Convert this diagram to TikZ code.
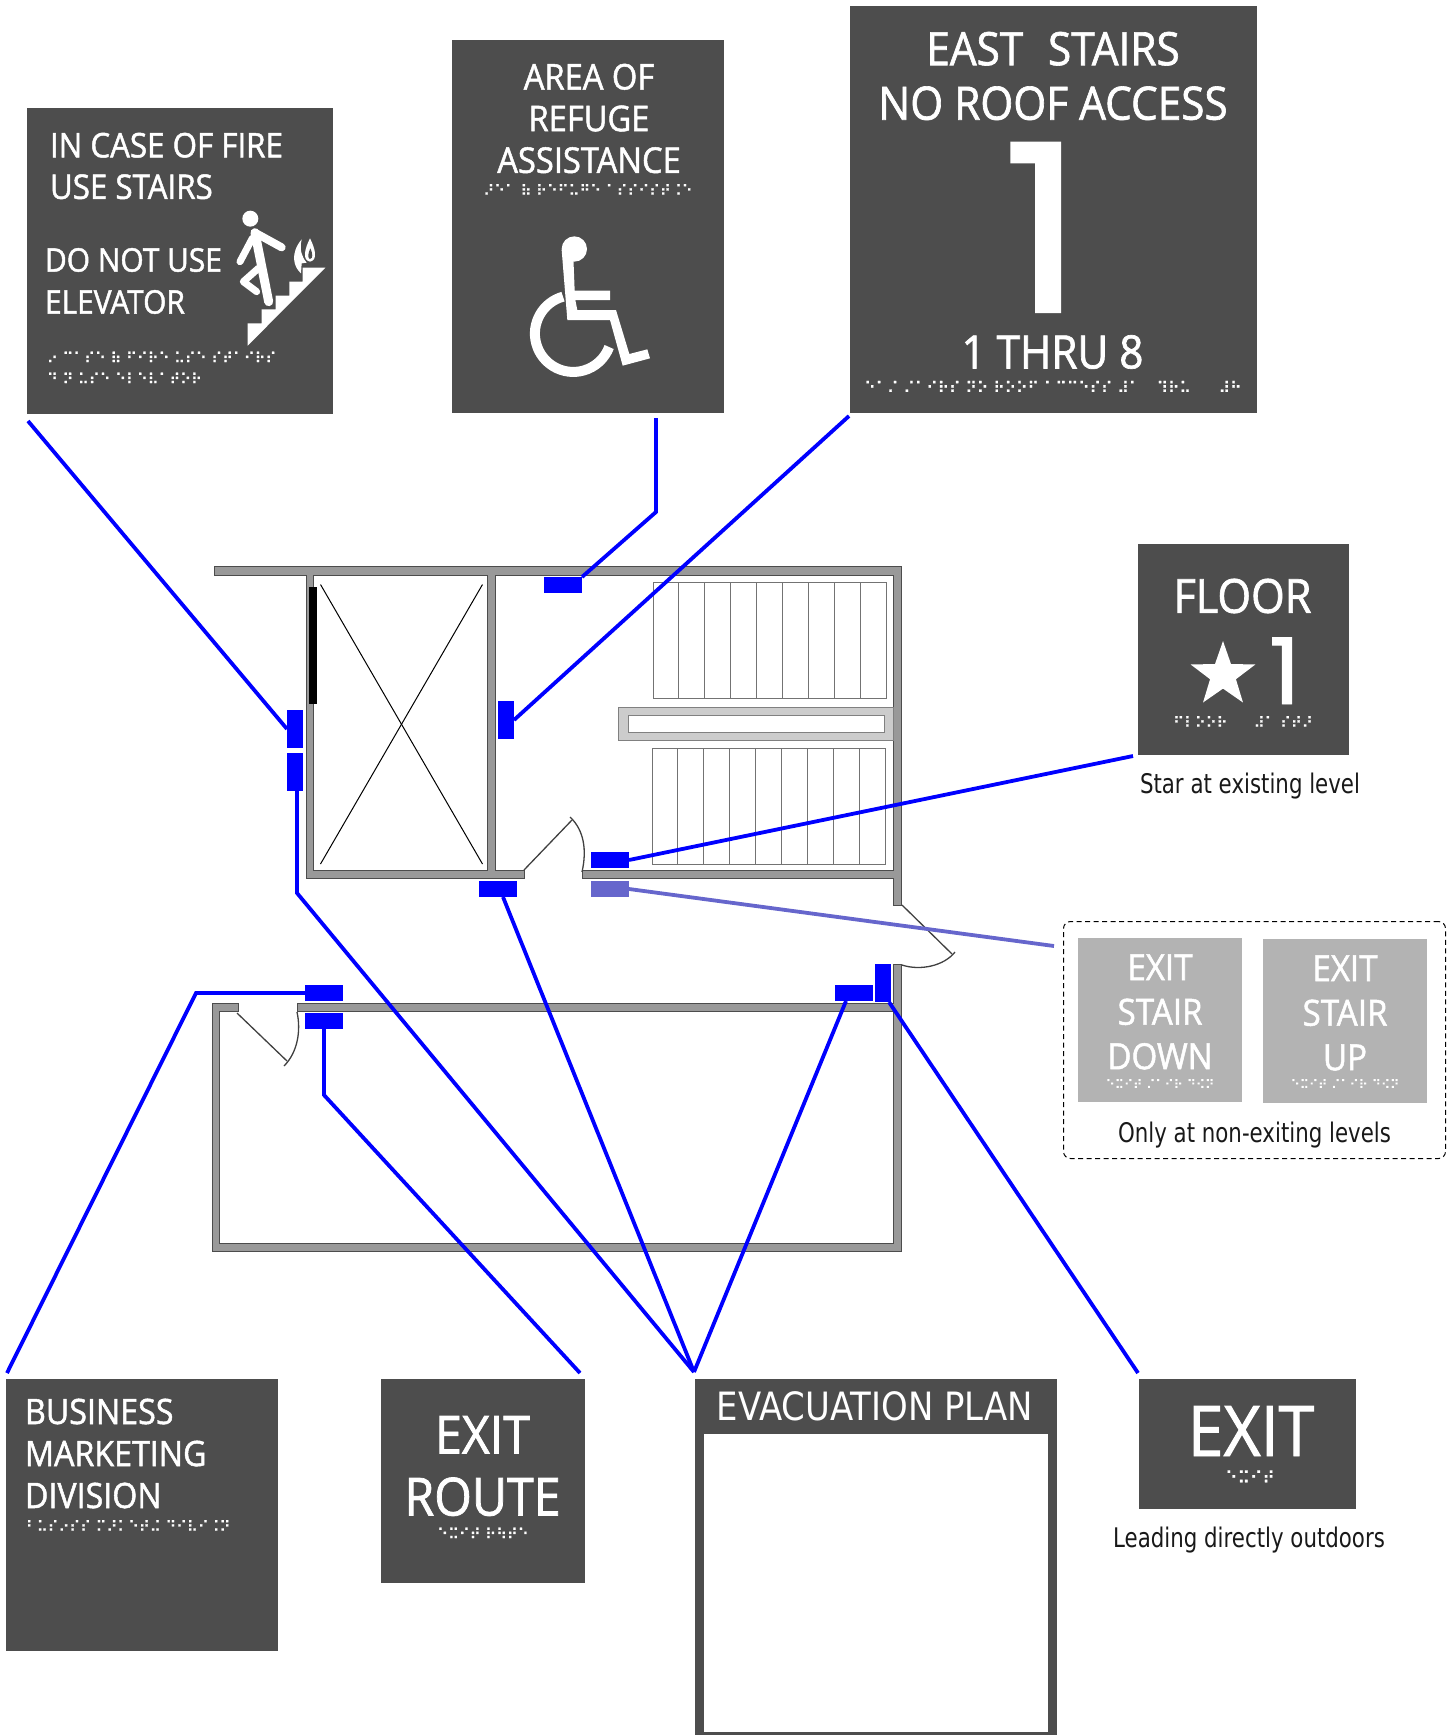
\documentclass[tikz,border=0pt]{standalone}
\usepackage{fontspec}
\usetikzlibrary{shapes}
\newfontfamily\signfamily[FakeStretch=.92,FakeBold=1.4]{Open Sans}
\newfontfamily\numfamily[FakeStretch=1.1,FakeBold=1]{Poppins}
\newfontfamily\capfamily[FakeStretch=.79]{DejaVu Sans}
\newfontfamily\planfamily[FakeStretch=.87]{DejaVu Sans}
\newfontfamily\brlfamily[FakeBold=1]{DejaVu Sans}
\newcommand{\signsize}[2]{\fontsize{#1}{#2}\selectfont}
\definecolor{signGray}{HTML}{4D4D4D}
\definecolor{signLight}{HTML}{B3B3B3}
\definecolor{wallGray}{HTML}{999999}
\definecolor{markFaded}{HTML}{6666CC}

\begin{document}
\begin{tikzpicture}[x=1pt,y=-1pt]

\useasboundingbox (0,0) rectangle (1455,1735);

\tikzstyle{signBox}=[rectangle,anchor=north west,fill=signGray,inner sep=0pt,outer sep=0pt]
\tikzstyle{signLightBox}=[signBox,fill=signLight]
\tikzstyle{signText}=[text=white,inner sep=0pt,outer sep=0pt,align=center,font=\signfamily]
\tikzstyle{leftText}=[signText,align=left,anchor=west]
\tikzstyle{brailleText}=[text=white,inner sep=0pt,outer sep=0pt,align=left,font=\brlfamily\signsize{14.8}{21}]
\tikzstyle{captionText}=[text=black!90,inner sep=0pt,outer sep=0pt,anchor=base,font=\capfamily\signsize{27}{32}]
\tikzstyle{signMark}=[rectangle,fill=blue,inner sep=0pt,outer sep=0pt]
\tikzstyle{markH}=[signMark,minimum width=38pt,minimum height=16pt]
\tikzstyle{markV}=[signMark,minimum width=16pt,minimum height=38pt]
\tikzstyle{signLine}=[draw=blue,line width=3.8pt]
\tikzstyle{wall}=[fill=wallGray,draw=black!70,line width=1pt]
\tikzstyle{doorLine}=[draw=black!75,line width=1.3pt]
\tikzstyle{stairLine}=[draw=black!55,line width=1pt]

%signs
\node[signBox,minimum width=306pt,minimum height=306pt] (fireSign) at (27,108) {};
\node[signBox,minimum width=272pt,minimum height=373pt] (refugeSign) at (452,40) {};
\node[signBox,minimum width=407pt,minimum height=407pt] (eastSign) at (850,6) {};
\node[signBox,minimum width=211pt,minimum height=211pt] (floorSign) at (1138,544) {};
\node[signLightBox,minimum width=164pt,minimum height=164pt] (downSign) at (1078,938) {};
\node[signLightBox,minimum width=164pt,minimum height=164pt] (upSign) at (1263,939) {};
\node[signBox,minimum width=272pt,minimum height=272pt] (businessSign) at (6,1379) {};
\node[signBox,minimum width=204pt,minimum height=204pt] (routeSign) at (381,1379) {};
\node[signBox,minimum width=362pt,minimum height=356pt] (planSign) at (695,1379) {};
\node[rectangle,anchor=north west,fill=white,inner sep=0pt,minimum width=344pt,minimum height=298pt] (planBlank) at (704,1434) {};
\node[signBox,minimum width=217pt,minimum height=130pt] (exitSign) at (1139,1379) {};
\node[draw=black,dash pattern=on 5pt off 3.5pt,line width=1pt,rounded corners=7pt,anchor=north west,inner sep=0pt,minimum width=382pt,minimum height=237pt] (levelBox) at (1063,921) {};

%sign texts
\node[leftText,font=\signfamily\signsize{34}{41.5}] (fireTop) at (50,166) {IN CASE OF FIRE\\USE STAIRS};
\node[leftText,font=\signfamily\signsize{32.5}{42}] (fireBottom) at (45,281) {DO NOT USE\\ELEVATOR};
\node[signText,font=\signfamily\signsize{35.5}{41.7}] (refugeText) at (589,118.5) {AREA OF\\REFUGE\\ASSISTANCE};
\node[signText,font=\signfamily\signsize{46}{54.5}] (eastText) at (1053,76) {EAST\hspace{.3em} STAIRS\\NO ROOF ACCESS};
\node[signText,font=\numfamily\signsize{234}{240},text height=170pt,text depth=0pt] (bigOne) at (1043,227) {1};
\node[signText,font=\signfamily\signsize{46}{50}] (thruText) at (1052.5,352) {1 THRU 8};
\node[signText,font=\signfamily\signsize{47}{50}] (floorText) at (1242.5,596) {FLOOR};
\node[signText,font=\numfamily\signsize{92}{94},text height=66pt,text depth=0pt] (floorOne) at (1285,671) {1};
\node[star,star points=5,star point ratio=2.5,fill=white,inner sep=0pt,minimum size=68pt] (floorStar) at (1223,675) {};
\node[signText,font=\signfamily\signsize{36}{44.5}] (downText) at (1160,1012) {EXIT\\STAIR\\DOWN};
\node[signText,font=\signfamily\signsize{36}{44.5}] (upText) at (1345,1013) {EXIT\\STAIR\\UP};
\node[leftText,font=\signfamily\signsize{35}{42}] (businessText) at (25,1453.5) {BUSINESS\\MARKETING\\DIVISION};
\node[signText,font=\signfamily\signsize{52.5}{62}] (routeText) at (482.5,1466) {EXIT\\ROUTE};
\node[signText,font=\planfamily\signsize{39}{44}] (planText) at (875,1406.5) {EVACUATION PLAN};
\node[signText,font=\signfamily\signsize{70}{72}] (exitText) at (1251,1431) {EXIT};

%braille
\node[brailleText,anchor=west] (fireDots) at (47,368) {⠔ ⠉⠁⠎⠑ ⠷ ⠋⠊⠗⠑ ⠥⠎⠑ ⠎⠞⠁⠊⠗⠎\\⠙ ⠝ ⠥⠎⠑ ⠑⠇⠑⠧⠁⠞⠕⠗};
\node[brailleText] (refugeDots) at (588,190) {⠜⠑⠁ ⠷ ⠗⠑⠋⠥⠛⠑ ⠁⠎⠎⠊⠎⠞⠨⠑};
\node[brailleText,font=\brlfamily\signsize{15.6}{21}] (eastDots) at (1053,387) {⠑⠁⠌ ⠌⠁⠊⠗⠎ ⠝⠕ ⠗⠕⠕⠋ ⠁⠉⠉⠑⠎⠎ ⠼⠁ ⠀⠹⠗⠥ ⠀⠀⠼⠓};
\node[brailleText] (floorDots) at (1243,722) {⠋⠇⠕⠕⠗ ⠀⠀⠼⠁ ⠎⠞⠜};
\node[brailleText,font=\brlfamily\signsize{12.5}{21}] (downDots) at (1160,1084) {⠑⠭⠊⠞ ⠌⠁⠊⠗ ⠙⠪⠝};
\node[brailleText,font=\brlfamily\signsize{12.5}{21}] (upDots) at (1345,1084) {⠑⠭⠊⠞ ⠌⠁⠊⠗ ⠙⠪⠝};
\node[brailleText,anchor=west] (businessDots) at (26,1526) {⠃⠥⠎⠔⠎⠎ ⠍⠜⠅⠑⠞⠬ ⠙⠊⠧⠊⠨⠝};
\node[brailleText] (routeDots) at (483,1533.5) {⠑⠭⠊⠞ ⠗⠳⠞⠑};
\node[brailleText,font=\brlfamily\signsize{17}{21}] (exitDots) at (1250,1477) {⠑⠭⠊⠞};

%captions
\node[captionText] (floorCaption) at (1250,793) {Star at existing level};
\node[captionText] (levelCaption) at (1254.5,1142) {Only at non-exiting levels};
\node[captionText] (exitCaption) at (1249,1547) {Leading directly outdoors};

%wheelchair
\begin{scope}[shift={(440,30)},scale=1/3]
\fill[white] (403,657) circle (38);
\fill[white] (365,660) -- (382,870) -- (510,870) -- (548,1007) -- (630,985) -- (622,958) -- (568,972) -- (528,840) -- (412,840) -- (406,810) -- (510,810) -- (510,782) -- (404,782) -- (400,680) -- cycle;
\draw[white,line width=10pt] (369,800) arc[start angle=254.5,end angle=20.5,radius=115];
\end{scope}

%walking figure and flame
\begin{scope}[shift={(0,90)},scale=1/3]
\fill[white] (751,386) circle (24);
\fill[white] (743,700) -- (785,700) -- (785,658) -- (827,658) -- (827,617) -- (868,617) -- (868,575) -- (908,575) -- (908,533) -- (976,533) -- (743,767) -- cycle;
\draw[white,line width=9pt,line cap=round] (765,428) -- (806,635);
\draw[white,line width=8pt,line cap=round] (765,428) -- (845,472);
\draw[white,line width=7pt,line cap=round,line join=round] (757,445) -- (720,515);
\draw[white,line width=7pt,line cap=round,line join=round] (775,535) -- (730,575) -- (770,605);
\fill[white] (903,550) .. controls (880,530) and (870,490) .. (905,448) .. controls (898,480) and (905,500) .. (920,518) -- (905,520) -- cycle;
\fill[white] (930,445) .. controls (945,475) and (955,510) .. (930,515) .. controls (905,510) and (915,475) .. (930,445) -- cycle;
\fill[signGray] (931,475) .. controls (938,490) and (940,505) .. (930,507) .. controls (922,505) and (924,490) .. (931,475) -- cycle;
\end{scope}

%floor plan walls
\draw[wall,even odd rule] (214,566) -- (901,566) -- (901,905) -- (893,905) -- (893,878) -- (582,878) -- (582,870) -- (893,870) -- (893,575) -- (495,575) -- (495,870) -- (524,870) -- (524,878) -- (306,878) -- (306,575) -- (214,575) -- cycle (313,575) -- (313,870) -- (487,870) -- (487,575) -- cycle;
\draw[wall] (212,1003) -- (238,1003) -- (238,1011) -- (219,1011) -- (219,1243) -- (893,1243) -- (893,1011) -- (297,1011) -- (297,1003) -- (893,1003) -- (893,964) -- (901,964) -- (901,1251) -- (212,1251) -- cycle;

%elevator
\fill[black] (308.5,587) rectangle (317,704);
\draw[black,line width=1pt] (320.5,584.5) -- (482.5,864);
\draw[black,line width=1pt] (482.5,584.5) -- (320.5,864);

%stairs
\draw[stairLine] (653,582.5) rectangle (886.5,698.5);
\draw[stairLine] (652,748) rectangle (885.5,864);
\foreach \i in {1,...,8}{
  \draw[stairLine] (653+25.94*\i,582.5) -- (653+25.94*\i,698.5);
  \draw[stairLine] (652+25.94*\i,748) -- (652+25.94*\i,864);
}
\draw[fill=black!20,draw=black!50,line width=1pt] (618,707) rectangle (893,740);
\draw[fill=white,draw=black!50,line width=1pt] (628,715) rectangle (884.5,732);

%doors
\draw[doorLine] (237,1013) -- (287,1061);
\draw[doorLine] (297,1012) .. controls (301,1030) and (298,1052) .. (284,1066);
\draw[doorLine] (524,870) -- (572,820);
\draw[doorLine] (582,872) .. controls (587,850) and (584,830) .. (570,817);
\draw[doorLine] (902,905) -- (952,954);
\draw[doorLine] (902,965) .. controls (920,971) and (944,966) .. (955,952);

%sign marks
\node[markV] (elevUp) at (295,729) {};
\node[markV] (elevDown) at (295,772) {};
\node[markH] (refugeMark) at (563,585) {};
\node[markV] (eastMark) at (506,720) {};
\node[markH] (floorMark) at (610,860) {};
\node[markH,fill=markFaded] (levelMark) at (610,889) {};
\node[markH] (planLeft) at (498,889) {};
\node[markH] (businessMark) at (324,993) {};
\node[markH] (routeMark) at (324,1021) {};
\node[markH] (planRight) at (854,993) {};
\node[markV] (exitMark) at (883,983) {};

%free ends and bends
\coordinate (fireEnd) at (28,421);
\coordinate (refugeEnd) at (656,418);
\coordinate (refugeBend) at (656,512);
\coordinate (eastEnd) at (849,416);
\coordinate (floorEnd) at (1133,756);
\coordinate (levelEnd) at (1054,946);
\coordinate (planTip) at (694,1372);
\coordinate (elevBend) at (297,893);
\coordinate (businessEnd) at (7,1373);
\coordinate (businessBend) at (196,993);
\coordinate (routeEnd) at (580,1373);
\coordinate (routeBend) at (324,1095);
\coordinate (exitEnd) at (1138,1373);

%connections
\draw[signLine] (fireEnd) -- (elevUp.west);
\draw[signLine] (refugeEnd) -- (refugeBend) -- (refugeMark.north east);
\draw[signLine] (eastEnd) -- (eastMark.east);
\draw[signLine] (floorEnd) -- (floorMark.east);
\draw[signLine,draw=markFaded] (levelMark.east) -- (levelEnd);
\draw[signLine] ([xshift=2pt]elevDown.south) -- (elevBend) -- (planTip);
\draw[signLine] ([xshift=5pt]planLeft.south) -- (planTip);
\draw[signLine] ([xshift=-8pt]planRight.south) -- (planTip);
\draw[signLine] (businessMark.west) -- (businessBend) -- (businessEnd);
\draw[signLine] (routeMark.south) -- (routeBend) -- (routeEnd);
\draw[signLine] ([xshift=6pt]exitMark.south) -- (exitEnd);

\end{tikzpicture}
\end{document}
